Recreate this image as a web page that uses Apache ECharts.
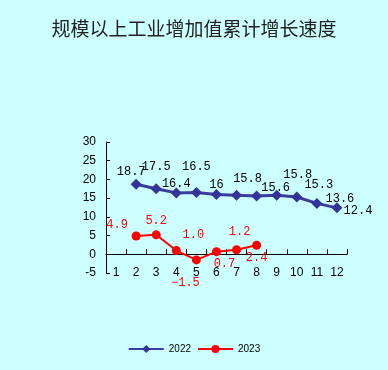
<!DOCTYPE html>
<html>
<head>
<meta charset="utf-8">
<script src="https://cdn.jsdelivr.net/npm/echarts@6/dist/echarts.min.js"></script>
<style>
html,body{margin:0;padding:0;background:#fff;}
#c{width:388px;height:370px;}
</style>
</head>
<body>
<div id="c"></div>
<script>
const titleText = '规模以上工业增加值累计增长速度';
const months = ['1','2','3','4','5','6','7','8','9','10','11','12'];
const seriesNames = ['2022', '2023'];
const values2022 = [null, 18.7, 17.5, 16.4, 16.5, 16, 15.8, 15.6, 15.8, 15.3, 13.6, 12.4];
const values2023 = [null, 4.9, 5.2, 1.0, -1.5, 0.7, 1.2, 2.4, null, null, null, null];
const yTicks = { min: -5, max: 30, interval: 5 };

// label nudges (style only), relative to each point
const shift2022 = [null, [-5,-12],[0,-22],[0,-9],[0,-26],[0,-10],[11,-16],[19,-8],[21,-20],[22,-12],[23,-5],[21,3]];
const shift2023 = [null, [-19,-11],[0,-14],[17,-16],[-11,23],[8,12],[3,-18],[0,13]];

const labelFont = { fontFamily: 'Liberation Mono', fontSize: 12 };

function makeData(vals, shifts, fmt) {
  return vals.map((v, i) => {
    if (v === null) return null;
    const s = shifts[i] || [0, -12];
    return { value: v, label: { offset: s, formatter: () => fmt(v) } };
  });
}

const chart = echarts.init(document.getElementById('c'), null, { renderer: 'canvas' });
chart.setOption({
  backgroundColor: '#CCFFFF',
  animation: false,
  title: {
    text: titleText, left: 'center', top: 14,
    textStyle: { fontFamily: 'Noto Sans CJK SC', fontSize: 19, fontWeight: 'normal', color: '#222' }
  },
  legend: {
    bottom: 11, left: 'center', itemWidth: 35, itemHeight: 10, itemGap: 6,
    data: seriesNames,
    textStyle: { fontFamily: 'Liberation Sans', fontSize: 10, color: '#000' }
  },
  grid: { left: 106, right: 41, top: 142, bottom: 97, containLabel: false },
  xAxis: [
    {
      type: 'category', data: months, boundaryGap: true, position: 'bottom',
      axisLine: { show: false, onZero: false }, axisTick: { show: false },
      axisLabel: { color: '#000', fontFamily: 'Liberation Sans', fontSize: 12, margin: -6 }
    },
    {
      type: 'category', data: months, boundaryGap: true, position: 'bottom',
      axisLine: { show: true, onZero: true, lineStyle: { color: '#000', width: 1 } },
      axisTick: { show: true, inside: true, length: 5, lineStyle: { color: '#000' } },
      axisLabel: { show: false }
    }
  ],
  yAxis: {
    type: 'value', min: yTicks.min, max: yTicks.max, interval: yTicks.interval,
    axisLine: { show: true, onZero: false, lineStyle: { color: '#000', width: 1 } },
    axisTick: { show: true, inside: true, length: 4, lineStyle: { color: '#000' } },
    splitLine: { show: false },
    axisLabel: { color: '#000', fontFamily: 'Liberation Sans', fontSize: 12, margin: 10 }
  },
  series: [
    {
      name: seriesNames[0], type: 'line', xAxisIndex: 0,
      data: makeData(values2022, shift2022, v => String(v)),
      symbol: 'diamond', symbolSize: 11, connectNulls: false,
      itemStyle: { color: '#333399' },
      lineStyle: { color: '#3B3BA0', width: 3 },
      label: { show: true, position: 'inside', color: '#000', ...labelFont }
    },
    {
      name: seriesNames[1], type: 'line', xAxisIndex: 0,
      data: makeData(values2023, shift2023, v => v.toFixed(1).replace('-', '\u2212')),
      symbol: 'circle', symbolSize: 9,
      itemStyle: { color: '#FF0000' },
      lineStyle: { color: '#FF0000', width: 2 },
      label: { show: true, position: 'inside', color: '#FF0000', ...labelFont }
    }
  ]
});
</script>
</body>
</html>
